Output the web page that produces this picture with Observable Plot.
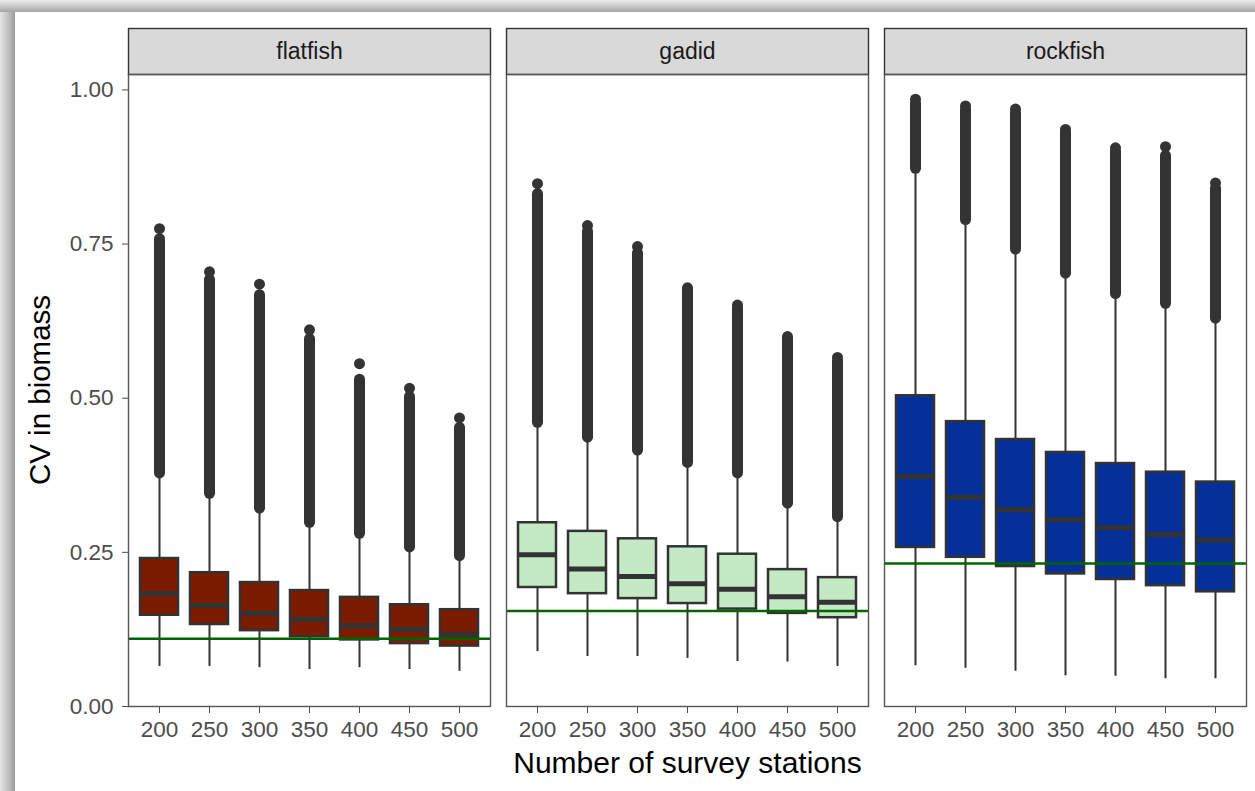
<!DOCTYPE html>
<html>
<head>
<meta charset="utf-8">
<script src="https://cdn.jsdelivr.net/npm/d3@7"></script>
<script src="https://cdn.jsdelivr.net/npm/@observablehq/plot@0.6"></script>
<style>
  html, body { margin: 0; padding: 0; background: #fff; }
  #page { position: relative; width: 1255px; height: 791px; overflow: hidden; background: #fff;
          font-family: "Liberation Sans", Arial, sans-serif; }
  #shadowLeft { position: absolute; left: 0; top: 0; width: 15px; height: 791px;
          background: linear-gradient(to right, #e4e4e4, #bdbdbd 60%, #9a9a9a); }
  #shadowTop { position: absolute; left: 0; top: 0; width: 1255px; height: 12px;
          background: linear-gradient(to bottom, #ececec, #c4c4c4 60%, #a4a4a4); }
  #chart { position: absolute; left: 0; top: 0; }
  #xtitle { position: absolute; left: 127px; width: 1121px; top: 748px; text-align: center;
          font-size: 30px; color: #000; line-height: 1; }
  #ytitle { position: absolute; left: 40px; top: 390px; transform: translate(-50%, -50%) rotate(-90deg);
          font-size: 29.5px; color: #000; white-space: nowrap; line-height: 1; }
</style>
</head>
<body>
<div id="page">
  <div id="chart"></div>
  <div id="shadowLeft"></div>
  <div id="shadowTop"></div>
  <div id="xtitle">Number of survey stations</div>
  <div id="ytitle">CV in biomass</div>
</div>
<script>
// ---- data ----
const species = ["flatfish", "gadid", "rockfish"];
const stations = [200, 250, 300, 350, 400, 450, 500];
const speciesColors = ["#7b1b00", "#c3e9c5", "#05309a"];
const targetCV = [0.110, 0.155, 0.232];

// rows: flatfish, gadid, rockfish ; columns: 200..500 stations
const whiskerLow = [
  [0.065, 0.065, 0.063, 0.060, 0.063, 0.060, 0.057],
  [0.089, 0.081, 0.081, 0.078, 0.073, 0.072, 0.065],
  [0.066, 0.062, 0.057, 0.050, 0.049, 0.045, 0.045]
];
const q1 = [
  [0.148, 0.133, 0.123, 0.113, 0.108, 0.102, 0.098],
  [0.193, 0.183, 0.175, 0.167, 0.158, 0.151, 0.144],
  [0.258, 0.242, 0.227, 0.215, 0.206, 0.196, 0.186]
];
const median = [
  [0.183, 0.164, 0.151, 0.141, 0.131, 0.125, 0.117],
  [0.246, 0.223, 0.211, 0.199, 0.190, 0.178, 0.169],
  [0.373, 0.339, 0.319, 0.303, 0.290, 0.279, 0.270]
];
const q3 = [
  [0.240, 0.217, 0.201, 0.188, 0.177, 0.165, 0.157],
  [0.298, 0.284, 0.272, 0.259, 0.247, 0.222, 0.209],
  [0.504, 0.462, 0.433, 0.412, 0.394, 0.380, 0.364]
];
// lowest outlier (upper whisker end)
const outlierLow = [
  [0.378, 0.345, 0.321, 0.298, 0.280, 0.258, 0.244],
  [0.460, 0.436, 0.415, 0.395, 0.378, 0.329, 0.307],
  [0.872, 0.789, 0.741, 0.702, 0.669, 0.653, 0.629]
];
// top of the dense run of outliers
const outlierDense = [
  [0.758, 0.692, 0.667, 0.596, 0.530, 0.502, 0.452],
  [0.831, 0.770, 0.735, 0.675, 0.645, 0.595, 0.560],
  [0.978, 0.968, 0.962, 0.930, 0.900, 0.893, 0.840]
];
// largest value
const outlierMax = [
  [0.775, 0.705, 0.685, 0.611, 0.556, 0.516, 0.468],
  [0.848, 0.780, 0.746, 0.679, 0.651, 0.600, 0.566],
  [0.985, 0.974, 0.969, 0.936, 0.906, 0.908, 0.849]
];
const yTicks = [0, 0.25, 0.5, 0.75, 1.0];

// ---- table built from the arrays ----
const rows = [];
species.forEach((sp, i) => {
  stations.forEach((st, j) => {
    rows.push({
      species: sp, stations: st, target: targetCV[i],
      low: whiskerLow[i][j], q1: q1[i][j], med: median[i][j], q3: q3[i][j],
      outLo: outlierLow[i][j], outHi: outlierDense[i][j], outMax: outlierMax[i][j]
    });
  });
});

const dark = "#333333";
const chart = Plot.plot({
  width: 1255,
  height: 745,
  marginLeft: 127,
  marginRight: 7,
  marginTop: 74,
  marginBottom: 39,
  style: {
    fontFamily: "'Liberation Sans', Arial, sans-serif",
    fontSize: "22.5px",
    color: "#4d4d4d",
    background: "transparent",
    overflow: "visible"
  },
  facet: { data: rows, x: "species" },
  fx: { domain: species, paddingInner: 0.0422, paddingOuter: 0, axis: null, label: null },
  x: { domain: stations, paddingInner: 0.25, paddingOuter: 0.225, tickSize: 7, tickPadding: 8, label: null },
  y: { domain: [0, 1.025], ticks: yTicks, tickFormat: d3.format(".2f"), tickSize: 6, tickPadding: 9, label: null },
  color: { domain: species, range: speciesColors },
  marks: [
    // strip background
    Plot.frame({ fill: "#d9d9d9", stroke: dark, strokeWidth: 1.4, insetTop: -46, insetBottom: 632 }),
    Plot.text(rows, Plot.selectFirst({ text: "species", frameAnchor: "top", dy: -23, fontSize: 23, fill: "#1a1a1a", lineAnchor: "middle" })),
    // whiskers
    Plot.ruleX(rows, { x: "stations", y1: "low", y2: "outLo", stroke: dark, strokeWidth: 2 }),
    // outliers
    Plot.ruleX(rows, { x: "stations", y1: "outLo", y2: "outHi", stroke: dark, strokeWidth: 11, strokeLinecap: "round" }),
    Plot.dot(rows, { x: "stations", y: "outMax", r: 5.5, fill: dark, stroke: "none" }),
    // boxes
    Plot.barY(rows, { x: "stations", y1: "q1", y2: "q3", fill: "species", stroke: dark, strokeWidth: 2.5 }),
    Plot.tickY(rows, { x: "stations", y: "med", stroke: dark, strokeWidth: 5 }),
    // reference line
    Plot.ruleY(rows, Plot.selectFirst({ y: "target", stroke: "#006400", strokeWidth: 2.5 })),
    // panel border
    Plot.frame({ stroke: "#555555", strokeWidth: 1.4 })
  ]
});
document.getElementById("chart").appendChild(chart);
</script>
</body>
</html>
